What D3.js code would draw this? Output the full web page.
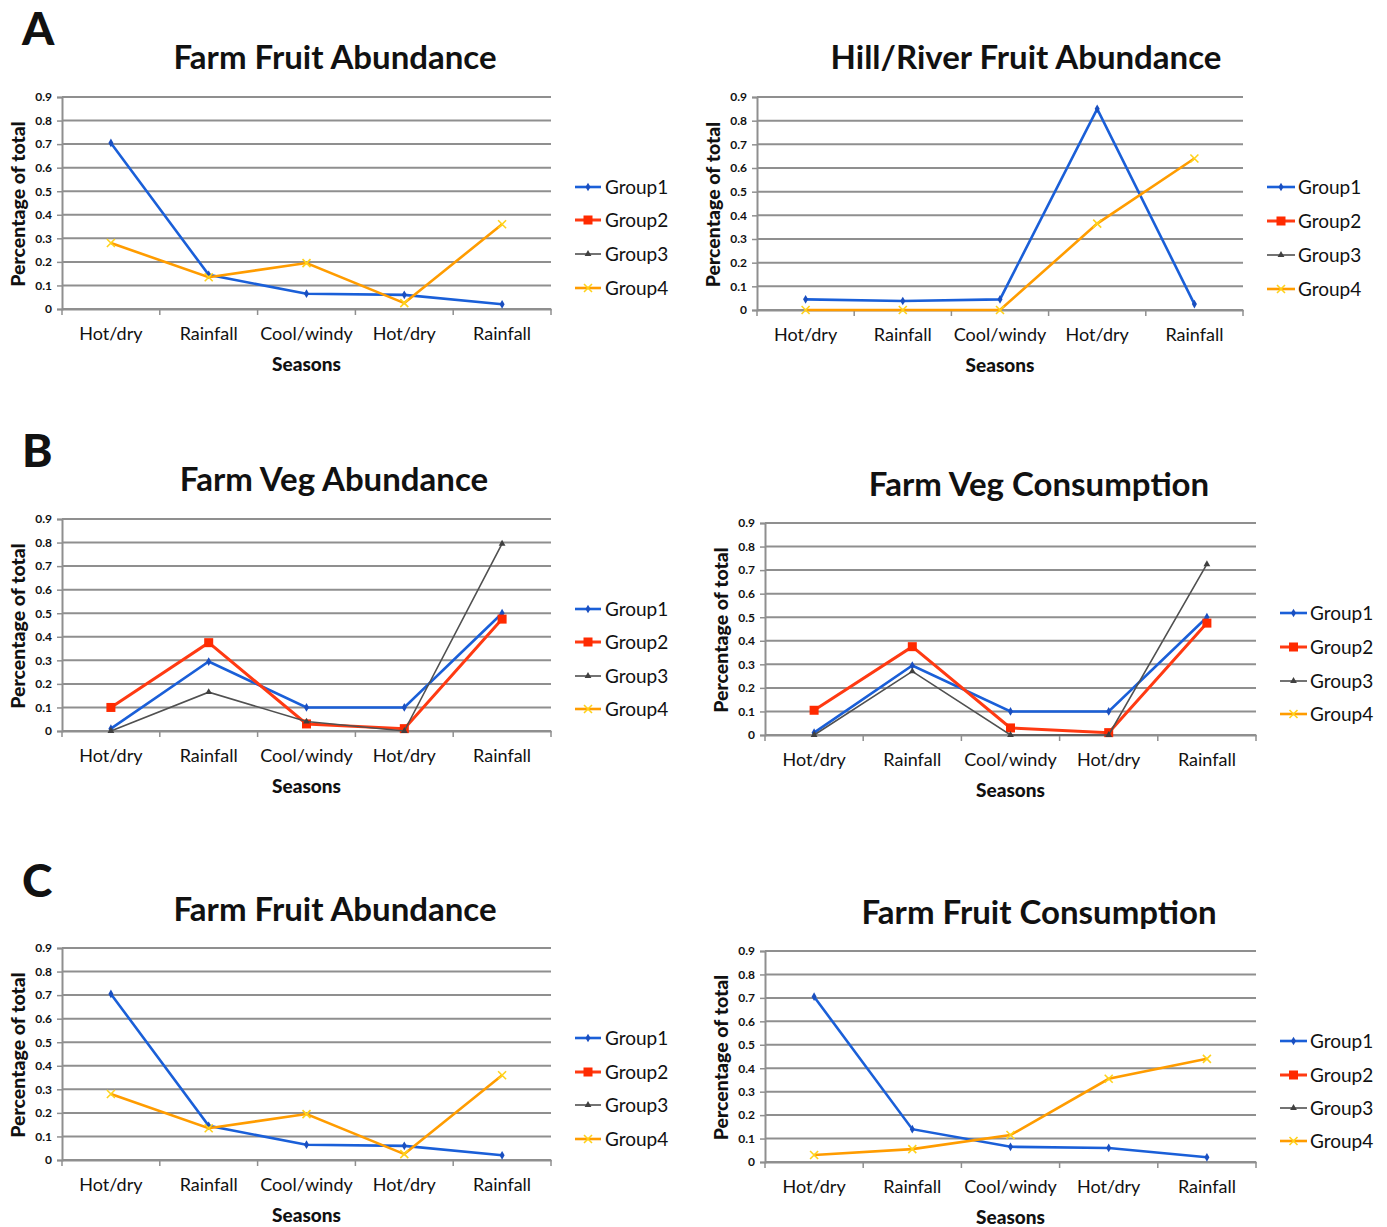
<!DOCTYPE html>
<html>
<head>
<meta charset="utf-8">
<script src="https://cdn.jsdelivr.net/npm/d3@7/dist/d3.min.js"></script>
<style>
  html, body { margin: 0; padding: 0; background: #ffffff; }
  svg { display: block; }
  text { font-family: Lato, "Open Sans", sans-serif; fill: #111; }
</style>
</head>
<body>
<svg id="fig" width="1387" height="1227"></svg>
<script>
// Seasons along the x axis (two years: hot/dry appears twice, rainfall twice)
const seasons = ["Hot/dry", "Rainfall", "Cool/windy", "Hot/dry", "Rainfall"];
const yTicks = [0, 0.1, 0.2, 0.3, 0.4, 0.5, 0.6, 0.7, 0.8, 0.9];
const groups = ["Group1", "Group2", "Group3", "Group4"];

// Farm fruit abundance
const farmFruitAbundG1 = [0.705, 0.145, 0.065, 0.06, 0.02];
const farmFruitAbundG4 = [0.28, 0.135, 0.195, 0.025, 0.36];

// Hill/river fruit abundance
const hillFruitAbundG1 = [0.045, 0.038, 0.045, 0.85, 0.025];
const hillFruitAbundG4 = [0, 0, 0, 0.365, 0.64];

// Farm vegetable abundance
const farmVegAbundG1 = [0.01, 0.295, 0.10, 0.10, 0.50];
const farmVegAbundG2 = [0.10, 0.375, 0.03, 0.01, 0.475];
const farmVegAbundG3 = [0, 0.165, 0.04, 0, 0.795];

// Farm vegetable consumption
const farmVegConsG1 = [0.01, 0.295, 0.10, 0.10, 0.50];
const farmVegConsG2 = [0.105, 0.375, 0.03, 0.01, 0.475];
const farmVegConsG3 = [0, 0.27, 0, 0, 0.725];

// Farm fruit consumption
const farmFruitConsG1 = [0.705, 0.14, 0.065, 0.06, 0.02];
const farmFruitConsG4 = [0.03, 0.055, 0.115, 0.355, 0.44];

// Series styling per group
const groupStyle = {
  Group1: { color: "#1a5fd8", width: 2.6, marker: "diamond", mcolor: "#1a4fc0" },
  Group2: { color: "#ff3a12", width: 3,   marker: "square",  mcolor: "#ff2a00" },
  Group3: { color: "#505050", width: 1.6, marker: "triangle", mcolor: "#404040" },
  Group4: { color: "#ff9c00", width: 2.6, marker: "cross",   mcolor: "#ffd21a" }
};

// Panel layout: plot box, title, legend placement
const panels = [
  { letter: "A", letterY: 45, title: "Farm Fruit Abundance", titleX: 335, titleY: 69,
    x0: 62, x1: 551, yTop: 97, yBot: 309, legLine: [575, 601], legText: 605, legRows: [187, 220, 254, 288],
    series: { Group1: farmFruitAbundG1, Group4: farmFruitAbundG4 } },
  { title: "Hill/River Fruit Abundance", titleX: 1026, titleY: 69,
    x0: 757, x1: 1243, yTop: 97, yBot: 310, legLine: [1267, 1295], legText: 1298, legRows: [187, 221, 255, 289],
    series: { Group1: hillFruitAbundG1, Group4: hillFruitAbundG4 } },
  { letter: "B", letterY: 467, title: "Farm Veg Abundance", titleX: 334, titleY: 491,
    x0: 62, x1: 551, yTop: 519, yBot: 731, legLine: [575, 601], legText: 605, legRows: [609, 642, 676, 709],
    series: { Group1: farmVegAbundG1, Group2: farmVegAbundG2, Group3: farmVegAbundG3 } },
  { title: "Farm Veg Consumption", titleX: 1039, titleY: 496,
    x0: 765, x1: 1256, yTop: 523, yBot: 735, legLine: [1280, 1307], legText: 1310, legRows: [613, 647, 681, 714],
    series: { Group1: farmVegConsG1, Group2: farmVegConsG2, Group3: farmVegConsG3 } },
  { letter: "C", letterY: 897, title: "Farm Fruit Abundance", titleX: 335, titleY: 921,
    x0: 62, x1: 551, yTop: 948, yBot: 1160, legLine: [575, 601], legText: 605, legRows: [1038, 1072, 1105, 1139],
    series: { Group1: farmFruitAbundG1, Group4: farmFruitAbundG4 } },
  { title: "Farm Fruit Consumption", titleX: 1039, titleY: 924,
    x0: 765, x1: 1256, yTop: 951, yBot: 1162, legLine: [1280, 1307], legText: 1310, legRows: [1041, 1075, 1108, 1141],
    series: { Group1: farmFruitConsG1, Group4: farmFruitConsG4 } }
];

const svg = d3.select("#fig");

function drawMarker(g, type, x, y, color) {
  if (type === "diamond") {
    g.append("path").attr("d", d3.symbol(d3.symbolDiamond, 22)())
      .attr("transform", `translate(${x},${y})`).attr("fill", color);
  } else if (type === "square") {
    g.append("rect").attr("x", x - 4.5).attr("y", y - 4.5).attr("width", 9).attr("height", 9)
      .attr("fill", color);
  } else if (type === "triangle") {
    g.append("path").attr("d", d3.symbol(d3.symbolTriangle, 20)())
      .attr("transform", `translate(${x},${y})`).attr("fill", color);
  } else if (type === "cross") {
    g.append("path").attr("d", `M${x - 4},${y - 4}L${x + 4},${y + 4}M${x - 4},${y + 4}L${x + 4},${y - 4}`)
      .attr("stroke", color).attr("stroke-width", 1.6).attr("fill", "none");
  }
}

panels.forEach(p => {
  const g = svg.append("g");
  const x = d3.scaleBand().domain(d3.range(seasons.length)).range([p.x0, p.x1]).padding(0);
  const y = d3.scaleLinear().domain([0, 0.9]).range([p.yBot, p.yTop]);
  const cx = i => x(i) + x.bandwidth() / 2;

  if (p.letter) {
    g.append("text").attr("x", 22).attr("y", p.letterY)
      .attr("font-size", 46).attr("font-weight", 900).text(p.letter);
  }

  g.append("text").attr("x", p.titleX).attr("y", p.titleY).attr("text-anchor", "middle")
    .attr("font-size", 33).attr("font-weight", 700).text(p.title);

  // horizontal gridlines
  g.append("g").selectAll("line").data(yTicks).join("line")
    .attr("x1", p.x0).attr("x2", p.x1).attr("y1", d => y(d)).attr("y2", d => y(d))
    .attr("stroke", "#8f8f8f").attr("stroke-width", 2);

  // y axis with outward ticks
  const yAxis = g.append("g").attr("transform", `translate(${p.x0},0)`)
    .call(d3.axisLeft(y).tickValues(yTicks).tickSize(5).tickPadding(5).tickFormat(d => d === 0 ? "0" : d3.format(".1f")(d)));
  yAxis.select(".domain").attr("stroke", "#8f8f8f").attr("stroke-width", 2);
  yAxis.selectAll(".tick line").attr("stroke", "#8f8f8f").attr("stroke-width", 1.5);
  yAxis.selectAll(".tick text").attr("font-size", 12).attr("font-weight", 700)
    .attr("font-family", "Lato, sans-serif").attr("fill", "#111");

  // x axis: category labels centred, ticks on category boundaries
  const xAxis = g.append("g").attr("transform", `translate(0,${p.yBot})`)
    .call(d3.axisBottom(x).tickSize(0).tickPadding(18).tickFormat(i => seasons[i]));
  xAxis.select(".domain").attr("stroke", "#8f8f8f").attr("stroke-width", 2);
  xAxis.selectAll(".tick text").attr("font-size", 18).attr("font-family", "Lato, sans-serif").attr("fill", "#111");
  const bounds = d3.range(seasons.length + 1).map(i => i < seasons.length ? x(i) : p.x1);
  g.append("g").selectAll("line").data(bounds).join("line")
    .attr("x1", d => d).attr("x2", d => d).attr("y1", p.yBot).attr("y2", p.yBot + 6)
    .attr("stroke", "#8f8f8f").attr("stroke-width", 1.5);

  // axis titles
  g.append("text").attr("x", (p.x0 + p.x1) / 2).attr("y", p.yBot + 62).attr("text-anchor", "middle")
    .attr("font-size", 19).attr("font-weight", 900).text("Seasons");
  const ylx = p.x0 - 37, yly = (p.yTop + p.yBot) / 2 + 1;
  g.append("text").attr("transform", `translate(${ylx},${yly}) rotate(-90)`).attr("text-anchor", "middle")
    .attr("font-size", 19.5).attr("font-weight", 900).text("Percentage of total");

  // series lines and markers
  const line = d3.line().x((d, i) => cx(i)).y(d => y(d));
  Object.entries(p.series).forEach(([name, vals]) => {
    const s = groupStyle[name];
    g.append("path").datum(vals).attr("d", line).attr("fill", "none")
      .attr("stroke", s.color).attr("stroke-width", s.width).attr("stroke-linejoin", "miter");
    vals.forEach((v, i) => drawMarker(g, s.marker, cx(i), y(v), s.mcolor));
  });

  // legend
  groups.forEach((name, k) => {
    const s = groupStyle[name];
    const ry = p.legRows[k];
    g.append("line").attr("x1", p.legLine[0]).attr("x2", p.legLine[1]).attr("y1", ry).attr("y2", ry)
      .attr("stroke", s.color).attr("stroke-width", s.width);
    drawMarker(g, s.marker, (p.legLine[0] + p.legLine[1]) / 2, ry, s.mcolor);
    g.append("text").attr("x", p.legText).attr("y", ry + 6.5).attr("font-size", 19).text(name);
  });
});
</script>
</body>
</html>
